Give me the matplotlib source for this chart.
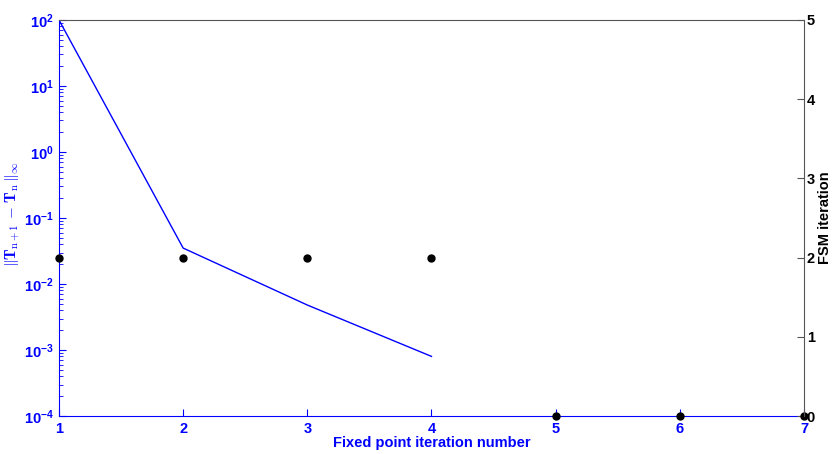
import matplotlib

matplotlib.use("Agg")
import matplotlib.pyplot as plt  # noqa: E402
from matplotlib.ticker import LogLocator, NullFormatter  # noqa: E402

AZUL = "#0000ff"
CINZA = "#555555"

# dados
iter_ponto_fixo = [1, 2, 3, 4]
residuo = [100, 0.035, 0.0048, 0.0008]
iter_fsm_x = [1, 2, 3, 4, 5, 6, 7]
iter_fsm = [2, 2, 2, 2, 0, 0, 0]

plt.rcParams.update({
    "font.family": "Liberation Sans", "font.weight": "bold", "font.size": 10,
    "xtick.direction": "in", "ytick.direction": "in",
    "mathtext.fontset": "cm",
})

fig = plt.figure(figsize=(8.32, 4.54), dpi=100)
ax = fig.add_axes([0.0709, 0.0837, 0.8954, 0.8723])
ax.plot(iter_ponto_fixo, residuo, color=AZUL, linewidth=1.0)
ax.set_yscale("log")
ax.set_xlim(1, 7)
ax.set_ylim(1e-4, 1e2)
ax.set_xticks(range(1, 8))
ax.yaxis.set_major_locator(LogLocator(base=10, numticks=10))
ax.yaxis.set_minor_locator(LogLocator(base=10, subs=range(2, 10), numticks=10))
ax.yaxis.set_minor_formatter(NullFormatter())
ax.tick_params(axis="both", colors=AZUL, labelsize=10.5, length=5)
ax.tick_params(axis="y", which="minor", colors=AZUL, length=3)
ax.tick_params(axis="x", pad=4)
for lbl in ax.get_xticklabels() + ax.get_yticklabels():
    lbl.set_fontweight("bold")
ax.spines["left"].set_color(AZUL)
ax.spines["bottom"].set_color(AZUL)
ax.spines["top"].set_color(CINZA)
ax.spines["right"].set_visible(False)
ax.set_xlabel("Fixed point iteration number", color=AZUL, fontweight="bold",
              fontsize=10.5, labelpad=0)
ax.set_ylabel(r"$\|\mathbf{T}_{\mathrm{n+1}}\,-\,\mathbf{T}_{\mathrm{n}}\,\|_\infty$",
              color=AZUL, fontsize=11)
ax.yaxis.set_label_coords(-0.049, 0.51)

ax2 = ax.twinx()
ax2.plot(iter_fsm_x, iter_fsm, "o", color="black", markersize=5, clip_on=False)
ax2.set_ylim(0, 5)
ax2.set_yticks(range(0, 6))
ax2.tick_params(axis="y", colors="black", labelsize=10.5, length=5, pad=2)
ax2.tick_params(axis="y", color=CINZA)
for lbl in ax2.get_yticklabels():
    lbl.set_fontweight("bold")
for s in ["left", "top", "bottom"]:
    ax2.spines[s].set_visible(False)
ax2.spines["right"].set_color(CINZA)
ax2.set_ylabel("FSM iteration", fontweight="bold", fontsize=10.5, labelpad=2)

fig.savefig("out.png", dpi=100)
